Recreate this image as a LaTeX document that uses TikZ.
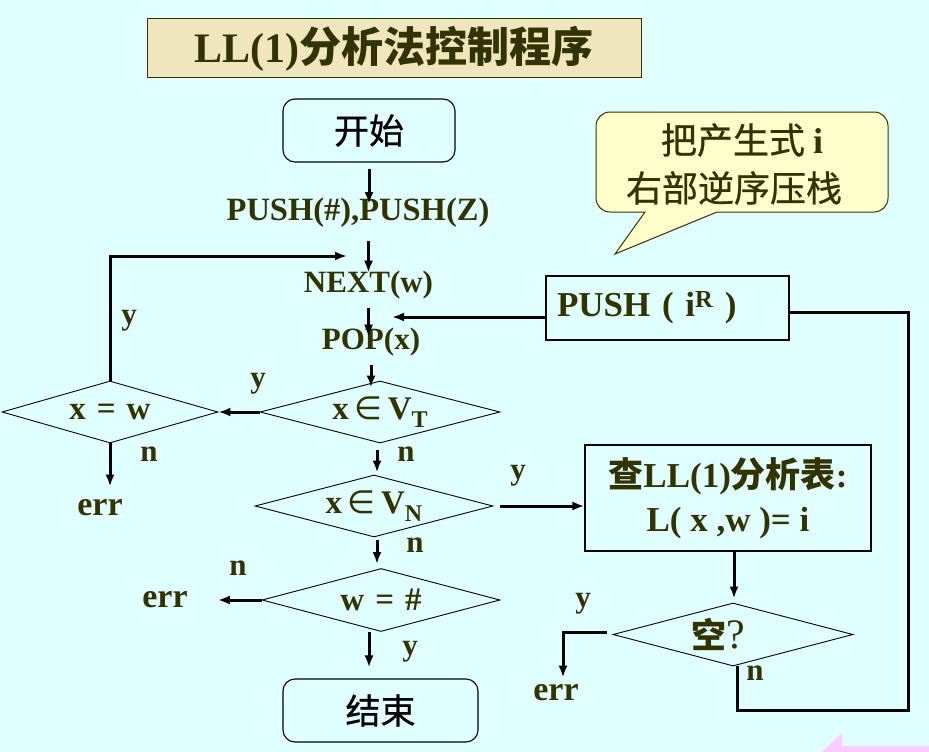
\documentclass[tikz,border=0pt]{standalone}
\usepackage{fontspec}
\setmainfont{Liberation Serif}
\newfontfamily\cjk{Noto Sans CJK SC}
\newfontfamily\cjkmed{Noto Sans CJK SC}[FakeBold=0.7]
\newfontfamily\symb{DejaVu Sans}
\usetikzlibrary{arrows.meta,positioning,shapes.geometric}
\definecolor{olive}{RGB}{51,51,0}
\definecolor{slidebg}{RGB}{224,255,255}
\definecolor{titlefill}{RGB}{240,230,190}
\definecolor{notefill}{RGB}{255,255,204}
\definecolor{navpink}{RGB}{255,204,255}
\newcommand{\flowfont}{\fontsize{31}{36}\selectfont\bfseries}
\newcommand{\testfont}{\fontsize{33}{38}\selectfont\bfseries}
\newcommand{\subT}[1]{\raisebox{-8pt}{\fontsize{24}{24}\selectfont #1}}
\newcommand{\elem}{{\symb\mdseries\fontsize{32}{32}\selectfont ∈}}
\tikzset{every picture/.style={
  >={Latex[length=12pt,width=9pt]}   % LaTeX style arrows.
  }
}

\begin{document}
\begin{tikzpicture}[x=1pt,y=-1pt,
        flowtext/.style={font=\flowfont,text=olive,inner sep=0pt},
        titlebox/.style={
          rectangle,
          draw=olive,
          fill=titlefill,
          line width=1pt,
          minimum width=494pt,
          minimum height=59pt,
          font=\fontsize{42}{48}\selectfont\bfseries,
          text=olive,
        },
        startstop/.style={
          rectangle,
          rounded corners=12pt,
          draw,
          line width=1.1pt,
          minimum width=172pt,
          minimum height=63pt,
          font=\cjkmed\fontsize{35}{40}\selectfont,
        },
        test/.style={
          diamond,
          draw,
          line width=0.9pt,
          aspect=4,
          inner sep=0pt,
          minimum width=238pt,
          minimum height=62pt,
          font=\testfont,
          text=olive,
        },
        action/.style={
          rectangle,
          draw,
          line width=1.2pt,
          font=\fontsize{35}{44}\selectfont\bfseries,
          text=olive,
        },
        flow/.style={->,line width=3pt},
        link/.style={line width=3pt},
      ]
      \path[use as bounding box,fill=slidebg] (0,0) rectangle (929,752);
      \fill[navpink] (822,752) -- (842,733) -- (842,746) -- (929,746) -- (929,752) -- cycle;

      \node[titlebox] (title) at (394,48.5) {LL(1){\cjk\bfseries 分析法控制程序}};

      % main column
      \node[startstop] (start) at (369,130.5) {开始};
      \node[flowtext,font=\fontsize{32.5}{38}\selectfont\bfseries] (pushes) at (358,213) {PUSH(\#),PUSH(Z)};
      \node[flowtext] (next) at (368.5,285) {NEXT(w)};
      \node[flowtext] (pop) at (371,342) {POP(x)};
      \node[test,minimum width=240pt] (vt) at (380,412) {x\,\elem\,V\subT{T}};
      \node[test,minimum width=216pt] (eqw) at (110,412) {x\,\,=\,\,w};
      \node[flowtext,font=\fontsize{34}{40}\selectfont\bfseries] (err1) at (100,508) {err};
      \node[test] (vn) at (374,506) {x\,\elem\,V\subT{N}};
      \node[test,minimum height=63pt] (eqh) at (381,600) {w\,\,=\,\,\#};
      \node[flowtext,font=\fontsize{34}{40}\selectfont\bfseries] (err2) at (165,600) {err};
      \node[startstop,minimum width=195pt] (stop) at (380.5,710.5) {结束};

      % right column
      \filldraw[fill=notefill,draw=olive,line width=1pt]
        (615,254) -- (645,212) -- (625,212) [rounded corners=14pt] -- (596,212) -- (596,112)
        -- (888,112) -- (888,212) -- (860,212) [sharp corners] -- (717,212) -- cycle;
      \node[font=\cjkmed\fontsize{36}{48}\selectfont,text=olive,align=center,inner sep=0pt] (note) at (734,164)
        {\hspace*{16pt}把产生式 {\rmfamily\bfseries i}\\右部逆序压栈};
      \node[action,minimum width=243pt,minimum height=64pt,text width=221pt,inner xsep=11pt,align=left]
        (pushr) at (667.5,308) {PUSH ( i\textsuperscript{R} )};
      \node[action,minimum width=286pt,minimum height=106pt,align=center] (table) at (728,498)
        {{\cjk\bfseries 查}LL(1){\cjk\bfseries 分析表}:\\L( x ,w )= i};
      \node[test,minimum width=240pt,minimum height=63pt] (empty) at (733,634.5)
        {{\cjk\bfseries\fontsize{35}{40}\selectfont 空}{\mdseries\fontsize{42}{42}\selectfont ?}\hspace*{30pt}};
      \node[flowtext,font=\fontsize{34}{40}\selectfont\bfseries] (err3) at (556,693) {err};

      \coordinate (loop) at (347,256);
      \coordinate (ret) at (392,317);
      \coordinate (corner) at (908,710);

      % connectors
      \draw[flow] ([yshift=-6pt]start.south) -- ([yshift=-6pt]start.south |- pushes.north);
      \draw[flow] ([yshift=-13pt]next.north |- pushes.south) -- ([yshift=-2pt]next.north);
      \draw[flow] ([yshift=-9pt]next.south) -- ([yshift=-9pt]next.south |- pop.north);
      \draw[flow] ([yshift=-9pt]pop.south) -- ([yshift=-7pt]pop.south |- vt.north);
      \draw[flow] (vt.west) -- (eqw.east);
      \draw[flow] (eqw.north) |- (loop);
      \draw[flow] (eqw.south) -- ([yshift=13pt]eqw.south |- err1.north);
      \draw[flow] ([xshift=-3pt,yshift=-7pt]vt.south) -- ([xshift=3pt,yshift=2pt]vn.north);
      \draw[flow] ([xshift=7pt]vn.east) -- (vn.east -| table.west);
      \draw[flow] ([xshift=3pt,yshift=-3pt]vn.south) -- ([xshift=-4pt,yshift=4pt]eqh.north);
      \draw[flow] (eqh.west) -- ([xshift=30pt]err2.east);
      \draw[flow] ([xshift=-12pt]eqh.south) -- ([xshift=-11.5pt,yshift=11pt]stop.north);
      \draw[flow] (pushr.west |- ret) -- (ret);
      \draw[link] ([xshift=4pt]empty.south) |- (corner) |- ([yshift=-4pt]pushr.east);
      \draw[flow] ([xshift=6pt]table.south) -- ([xshift=1pt,yshift=4pt]empty.north);
      \draw[flow] ([xshift=-6pt,yshift=2pt]empty.west) -| ([xshift=7pt,yshift=7pt]err3.north);

      % branch labels
      \node[flowtext] at (258,384) {y};
      \node[flowtext] at (129,321) {y};
      \node[flowtext] at (149,454) {n};
      \node[flowtext] at (406,454) {n};
      \node[flowtext] at (518,476) {y};
      \node[flowtext] at (415,545) {n};
      \node[flowtext] at (238,568) {n};
      \node[flowtext] at (410,652) {y};
      \node[flowtext] at (583,604) {y};
      \node[flowtext] at (755,673) {n};
\end{tikzpicture}
\end{document}
